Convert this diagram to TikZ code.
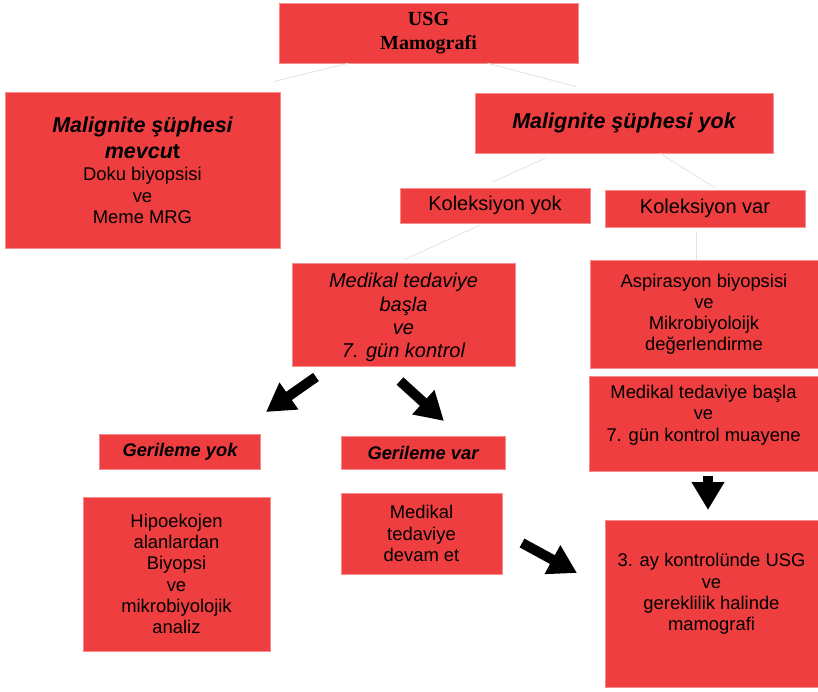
\documentclass[tikz,border=0pt]{standalone}
\usepackage{fontspec}
\setmainfont{Liberation Sans}
\newfontfamily\serifont{Liberation Serif}
\usetikzlibrary{arrows.meta}

\definecolor{rosso}{RGB}{239,62,64}
\definecolor{bordo}{RGB}{247,140,140}
\definecolor{grigio}{RGB}{226,226,226}

\tikzset{
    box/.style={fill=rosso, draw=bordo, line width=0.5pt, inner sep=0pt, align=center,
        font=\fontsize{18.4}{21.3}\selectfont},
    testo/.style={inner sep=0pt, align=center, font=\fontsize{18.4}{21.3}\selectfont},
    link/.style={draw=grigio, line width=0.8pt},
    freccia/.style={line width=10pt, -{Triangle[length=28pt,width=31pt]}},
}
\newcommand{\titolo}{\bfseries\itshape\fontsize{21.5}{25}\selectfont}

\begin{document}
\begin{tikzpicture}[x=1pt, y=-1pt]
    \useasboundingbox (0,0) rectangle (818,691);
    % Riquadri principali
    \node[box, minimum width=299, minimum height=60, font=\serifont\bfseries\fontsize{20}{24}\selectfont]
        (usg) at (428.5,33) {USG\\Mamografi};
    \node[box, minimum width=275, minimum height=156] (mevcut) at (142.5,170)
        {{\titolo Malignite şüphesi}\\[5pt]{\titolo mevcu\upshape t}\\[1pt]Doku biyopsisi\\ve\\Meme MRG};
    \node[box, minimum width=298, minimum height=60, font=\titolo] (yok) at (624,123)
        {Malignite şüphesi yok};
    % Koleksiyon
    \node[box, minimum width=190, minimum height=35, font=\fontsize{20}{23}\selectfont]
        (kyok) at (495,205.5) {Koleksiyon yok};
    \node[box, minimum width=200, minimum height=37, font=\fontsize{20}{23}\selectfont]
        (kvar) at (705,208.5) {Koleksiyon var};
    \node[box, minimum width=223, minimum height=103] (med) at (403.5,314.5) {};
    \node[testo, font=\itshape\fontsize{20}{23.2}\selectfont] at ([yshift=-3pt]med.center)
        {Medikal tedaviye\\başla\\ve\\7. gün kontrol};
    \node[box, minimum width=228, minimum height=108, font=\fontsize{18.4}{21}\selectfont]
        (asp) at (704,314) {Aspirasyon biyopsisi\\ve\\Mikrobiyoloijk\\değerlendirme};
    \node[box, minimum width=229, minimum height=95] (ted) at (703.5,423.5) {};
    \node[testo] at ([yshift=8.5pt]ted.center) {Medikal tedaviye başla\\ve\\7. gün kontrol muayene};
    \node[box, minimum width=213, minimum height=167] (usg3) at (711.5,603.5) {};
    \node[testo] at ([yshift=9.5pt]usg3.center) {3. ay kontrolünde USG\\ve\\gereklilik halinde\\mamografi};
    % Gerileme
    \node[box, minimum width=161, minimum height=35, font=\bfseries\itshape\fontsize{18.3}{21}\selectfont]
        (gyok) at (180,451.5) {Gerileme yok};
    \node[box, minimum width=164, minimum height=33, font=\bfseries\itshape\fontsize{18.3}{21}\selectfont]
        (gvar) at (423,452.5) {Gerileme var};
    \node[box, minimum width=187, minimum height=154] (hipo) at (176.5,574)
        {Hipoekojen\\alanlardan\\Biyopsi\\ve\\mikrobiyolojik\\analiz};
    \node[box, minimum width=161, minimum height=81] (devam) at (421.5,533.5)
        {Medikal\\tedaviye\\devam et};
    % Linee di collegamento
    \draw[link, shorten >=43pt] ([xshift=-80pt]usg.south) -- ([xshift=90pt]mevcut.north);
    \draw[link, shorten >=24pt] ([xshift=59pt]usg.south) -- ([xshift=-25pt]yok.north);
    \draw[link, shorten <=12pt, shorten >=14pt] ([xshift=-68pt]yok.south) -- ([xshift=-15pt]kyok.north);
    \draw[link, shorten >=3pt] ([xshift=36pt]yok.south) -- ([xshift=13pt]kvar.north);
    \draw[link, shorten <=4pt, shorten >=7pt] ([xshift=-11pt]kyok.south) -- ([xshift=-6pt]med.north);
    \draw[link, shorten <=5pt] ([xshift=-9pt]kvar.south) -- ([xshift=-9pt]kvar.south |- asp.north);
    % Frecce
    \coordinate (f1a) at (316,377);
    \coordinate (f1b) at (266,412);
    \coordinate (f2a) at (400,381);
    \coordinate (f2b) at (444,421);
    \coordinate (f3a) at (522,543);
    \coordinate (f3b) at (577,573);
    \coordinate (f4a) at (708,476);
    \coordinate (f4b) at (708,510);
    \draw[freccia] (f1a) -- (f1b);
    \draw[freccia] (f2a) -- (f2b);
    \draw[freccia] (f3a) -- (f3b);
    \draw[freccia] (f4a) -- (f4b);
\end{tikzpicture}
\end{document}
